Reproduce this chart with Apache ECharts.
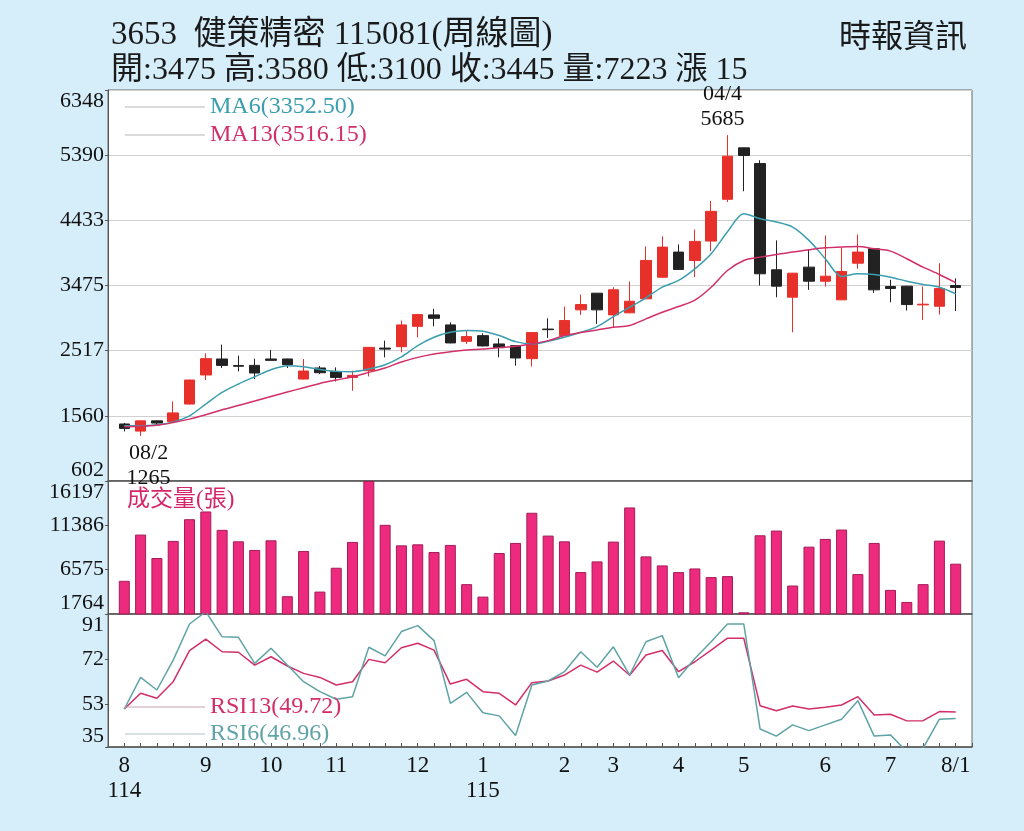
<!DOCTYPE html>
<html>
<head>
<meta charset="utf-8">
<script src="https://cdn.jsdelivr.net/npm/echarts@6.0.0/dist/echarts.min.js"></script>
<style>
  html, body { margin: 0; padding: 0; background: #d6eefa; }
  #weekly { width: 1024px; height: 831px; }
</style>
</head>
<body>
<div id="weekly"></div>
<script>
// 3653 健策精密 weekly candles, 114/08 .. 115/08/1
const opens  = [1440,1335,1486,1475,1733,2160,2395,2300,2301,2395,2395,2100,2263,2213,2124,2223,2555,2576,2875,3043,2896,2654,2738,2616,2591,2400,2835,2739,3117,3362,3043,3073,3279,3597,3966,3843,4128,4742,5498,5267,3706,3303,3745,3538,3264,3803,4015,3460,3465,3190,3170,3475];
const closes = [1375,1486,1453,1603,2086,2400,2301,2288,2189,2375,2311,2218,2193,2124,2154,2566,2540,2896,3047,2993,2631,2724,2587,2562,2410,2783,2826,2960,3195,3117,3412,3244,3843,4039,3711,4123,4565,5375,5385,3647,3465,3656,3538,3612,3681,3966,3411,3431,3195,3200,3430,3445];
const highs  = [1455,1490,1495,1771,2090,2478,2606,2444,2400,2528,2400,2395,2292,2272,2223,2570,2665,2960,3060,3132,2934,2812,2772,2699,2595,2790,2993,3166,3342,3365,3450,3534,4049,4197,4079,4295,4717,5685,5500,5316,4138,3660,4001,4211,4030,4226,4020,3559,3470,3460,3803,3580];
const lows   = [1330,1265,1440,1461,1725,2086,2263,2213,2100,2370,2263,2095,2174,2065,1928,2139,2419,2493,2713,2875,2625,2616,2580,2419,2297,2286,2705,2735,3043,2911,2861,3068,3275,3590,3705,3597,3980,4702,4860,3475,3303,2787,3411,3460,3260,3721,3367,3229,3107,2970,3048,3100];

const ma6  = [1413,1413,1427,1471,1560,1733,1903,2027,2134,2238,2297,2282,2242,2213,2208,2248,2311,2425,2591,2714,2787,2812,2802,2739,2650,2616,2655,2714,2787,2871,3018,3156,3294,3450,3549,3720,3942,4265,4531,4457,4408,4334,4138,3868,3608,3647,3637,3597,3538,3490,3450,3352.50];
const ma13 = [1400,1405,1420,1461,1511,1575,1648,1712,1777,1845,1909,1973,2036,2086,2134,2198,2263,2350,2419,2469,2503,2528,2542,2562,2581,2616,2665,2739,2783,2822,2861,2886,2984,3082,3166,3260,3450,3696,3843,3892,3932,3966,4001,4030,4040,4049,4015,3980,3868,3745,3637,3516.15];

const volumes = [5364,10383,7841,9695,12052,12892,10896,9652,8714,9761,3695,8605,4197,6783,9586,16197,11441,9215,9325,8495,9259,5004,3652,8386,9477,12750,10274,9652,6314,7470,9619,13329,8015,7034,6314,6706,5768,5877,1950,10307,10819,4852,9074,9914,10928,6095,9477,4382,3073,5004,9728,7223];

const rsi6  = [51.0,64.3,59.0,71.6,86.8,92.0,81.4,81.2,70.2,76.6,69.5,62.5,58.3,55.1,56.2,77.0,73.4,83.6,86.1,79.8,53.4,58.0,49.4,48.1,39.8,61.1,62.8,66.7,75.1,68.6,77.2,65.3,79.3,81.9,64.2,72.3,79.3,86.8,86.8,42.6,39.6,44.3,41.9,44.3,46.7,54.5,39.6,40.1,33.0,34.5,46.7,46.96];
const rsi13 = [51.0,57.6,55.5,62.5,75.6,80.4,75.1,74.9,69.5,73.0,69.1,66.0,64.3,61.1,62.5,71.9,70.5,76.8,78.7,75.8,61.5,63.5,58.3,57.6,52.7,62.1,62.8,65.3,69.5,66.5,71.2,65.2,73.7,75.6,66.7,70.9,75.8,80.8,80.8,52.4,50.3,52.3,51.0,51.7,52.7,56.2,48.5,48.8,46.0,46.1,49.9,49.72];

// axis ticks
const priceTicks = [602,1560,2517,3475,4433,5390,6348];
const volTicks = [1764,6575,11386,16197];
const rsiTicks = [35,53,72,91];
const monthIdx  = [0,5,9,13,18,22,27,30,34,38,43,47,51];
const monthText = ['8\n114','9','10','11','12','1\n115','2','3','4','5','6','7','8/1'];
const extremeDates = ['04/4','08/2'];

const serif = "'Liberation Serif', 'Noto Sans CJK TC', serif";
const cjk = "'Liberation Serif', 'Noto Sans CJK TC', sans-serif";
const upColor = '#e8302b', downColor = '#222222';
const ma6Color = '#3a9eae', ma13Color = '#d12f69';
const volColor = '#ed2a7e';
const rsi6Color = '#5fa3a6', rsi13Color = '#d22e68';

// one empty slot on each side of the weeks
const n = opens.length;
const cats = [];
for (let i = 0; i < n + 2; i++) cats.push('w' + i);
const pad = arr => ['-'].concat(arr, ['-']);
const labelAt = {};
monthIdx.forEach((k, j) => { labelAt[k + 1] = monthText[j]; });

const candles = [['-','-','-','-']]
  .concat(opens.map((o, i) => [o, closes[i], lows[i], highs[i]]))
  .concat([['-','-','-','-']]);

const hiIdx = highs.indexOf(Math.max(...highs));
const loIdx = lows.indexOf(Math.min(...lows));
const last = n - 1;
const legendVal = {
  MA6: ma6[last].toFixed(2), MA13: ma13[last].toFixed(2),
  RSI13: rsi13[last].toFixed(2), RSI6: rsi6[last].toFixed(2)
};

const grids = [
  { left: 108, right: 52, top: 90, height: 391 },
  { left: 108, right: 52, top: 481, height: 133 },
  { left: 108, right: 52, top: 614, height: 133 }
].map(g => Object.assign(g, { show: true, backgroundColor: '#fff', borderColor: '#666', borderWidth: 1 }));

function xAxisFor(idx) {
  const bottom = idx === 2;
  return {
    type: 'category', gridIndex: idx, data: cats, boundaryGap: false,
    axisLine: { lineStyle: { color: '#555', width: 1.5 } },
    axisTick: bottom ? { show: true, inside: true, length: 4, interval: 0, lineStyle: { color: '#555' } } : { show: false },
    axisLabel: bottom ? {
      show: true, interval: 0, fontFamily: serif, fontSize: 23, lineHeight: 25, color: '#111', margin: 6,
      formatter: (v, i) => labelAt[i] || ''
    } : { show: false },
    splitLine: { show: false }
  };
}

function yAxisFor(idx, min, max, ticks, grid) {
  return {
    type: 'value', gridIndex: idx, min: min, max: max,
    axisLine: { show: true, lineStyle: { color: '#555' } },
    axisTick: { show: true, length: 3, customValues: ticks, lineStyle: { color: '#555' } },
    axisLabel: {
      customValues: ticks, fontFamily: serif, fontSize: 22, color: '#111', margin: 4,
      verticalAlignMinLabel: 'bottom', verticalAlignMaxLabel: 'top',
      formatter: v => String(Math.round(v))
    },
    splitLine: { show: grid, lineStyle: { color: '#d0d0d0', width: 1 } }
  };
}

const chart = echarts.init(document.getElementById('weekly'));
chart.setOption({
  animation: false,
  backgroundColor: '#d6eefa',
  title: [
    { text: '3653  健策精密 115081(周線圖)', left: 106, top: 14,
      textStyle: { fontFamily: cjk, fontSize: 33, fontWeight: 'normal', color: '#1a1a1a' } },
    { text: '開:' + opens[last] + ' 高:' + highs[last] + ' 低:' + lows[last] + ' 收:' + closes[last] +
            ' 量:' + volumes[last] + ' 漲 ' + (closes[last] - closes[last - 1]),
      left: 106, top: 50,
      textStyle: { fontFamily: cjk, fontSize: 32, fontWeight: 'normal', color: '#1a1a1a' } },
    { text: '時報資訊', right: 52, top: 18,
      textStyle: { fontFamily: cjk, fontSize: 32, fontWeight: 'normal', color: '#1a1a1a' } },
    { text: '成交量(張)', left: 122, top: 483,
      textStyle: { fontFamily: cjk, fontSize: 23, fontWeight: 'normal', color: '#d6246a' } }
  ],
  legend: [
    { orient: 'vertical', left: 125, top: 95, padding: 0, icon: 'rect', itemWidth: 80, itemHeight: 1, itemGap: 4,
      formatter: name => name + '(' + legendVal[name] + ')',
      textStyle: { fontFamily: serif, fontSize: 24 },
      data: [
        { name: 'MA6', itemStyle: { color: '#b8b8b8' }, textStyle: { color: ma6Color } },
        { name: 'MA13', itemStyle: { color: '#b8b8b8' }, textStyle: { color: ma13Color } }
      ] },
    { orient: 'vertical', left: 125, top: 695, padding: 0, icon: 'rect', itemWidth: 80, itemHeight: 1, itemGap: 3,
      formatter: name => name + '(' + legendVal[name] + ')',
      textStyle: { fontFamily: serif, fontSize: 24 },
      data: [
        { name: 'RSI13', itemStyle: { color: '#c8a0b0' }, textStyle: { color: rsi13Color } },
        { name: 'RSI6', itemStyle: { color: '#b0c4c4' }, textStyle: { color: rsi6Color } }
      ] }
  ],
  grid: grids,
  xAxis: [xAxisFor(0), xAxisFor(1), xAxisFor(2)],
  yAxis: [
    yAxisFor(0, 602, 6348, priceTicks, true),
    yAxisFor(1, 1764, 16197, volTicks, false),
    yAxisFor(2, 35, 91, rsiTicks, false)
  ],
  series: [
    {
      name: 'K', type: 'candlestick', xAxisIndex: 0, yAxisIndex: 0, barWidth: 11,
      data: candles,
      itemStyle: { color: upColor, color0: downColor, borderColor: upColor, borderColor0: downColor, borderWidth: 1 },
      markPoint: {
        symbol: 'circle', symbolSize: 1, itemStyle: { color: 'rgba(0,0,0,0)' },
        label: { show: true, fontFamily: serif, fontSize: 22, lineHeight: 25, color: '#111' },
        data: [
          { coord: [cats[hiIdx + 1], highs[hiIdx]],
            label: { position: 'top', distance: 3, offset: [-5, 0], formatter: extremeDates[0] + '\n' + highs[hiIdx] } },
          { coord: [cats[loIdx + 1], lows[loIdx]],
            label: { position: 'bottom', distance: 4, offset: [8, 0], formatter: extremeDates[1] + '\n' + lows[loIdx] } }
        ]
      }
    },
    { name: 'MA6', type: 'line', xAxisIndex: 0, yAxisIndex: 0, data: pad(ma6), smooth: 0.3,
      symbol: 'none', lineStyle: { color: ma6Color, width: 1.5 }, itemStyle: { color: ma6Color } },
    { name: 'MA13', type: 'line', xAxisIndex: 0, yAxisIndex: 0, data: pad(ma13), smooth: 0.3,
      symbol: 'none', lineStyle: { color: ma13Color, width: 1.5 }, itemStyle: { color: ma13Color } },
    { name: 'Vol', type: 'bar', xAxisIndex: 1, yAxisIndex: 1, data: pad(volumes), barWidth: 11,
      itemStyle: { color: volColor, borderColor: '#a31d58', borderWidth: 1 } },
    { name: 'RSI13', type: 'line', xAxisIndex: 2, yAxisIndex: 2, data: pad(rsi13),
      symbol: 'none', lineStyle: { color: rsi13Color, width: 1.5 }, itemStyle: { color: rsi13Color } },
    { name: 'RSI6', type: 'line', xAxisIndex: 2, yAxisIndex: 2, data: pad(rsi6),
      symbol: 'none', lineStyle: { color: rsi6Color, width: 1.5 }, itemStyle: { color: rsi6Color } }
  ]
});
</script>
</body>
</html>
